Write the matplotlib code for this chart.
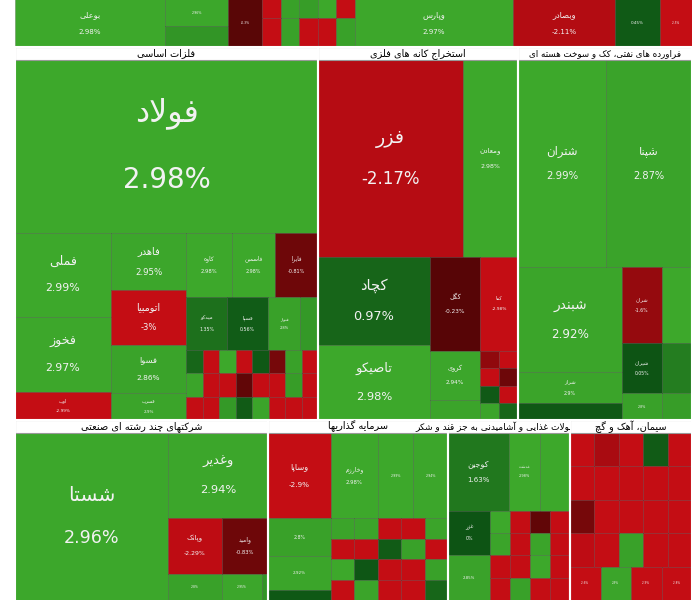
import matplotlib
matplotlib.use("Agg")
import matplotlib.pyplot as plt
from matplotlib.patches import Rectangle

# ---------------- minimal Arabic/Persian shaper ----------------
F = {
 'ء':(0xFE80,), 'آ':(0xFE81,0xFE82), 'أ':(0xFE83,0xFE84), 'ا':(0xFE8D,0xFE8E),
 'ب':(0xFE8F,0xFE90,0xFE91,0xFE92), 'ت':(0xFE95,0xFE96,0xFE97,0xFE98),
 'ث':(0xFE99,0xFE9A,0xFE9B,0xFE9C), 'ج':(0xFE9D,0xFE9E,0xFE9F,0xFEA0),
 'ح':(0xFEA1,0xFEA2,0xFEA3,0xFEA4), 'خ':(0xFEA5,0xFEA6,0xFEA7,0xFEA8),
 'د':(0xFEA9,0xFEAA), 'ذ':(0xFEAB,0xFEAC), 'ر':(0xFEAD,0xFEAE), 'ز':(0xFEAF,0xFEB0),
 'س':(0xFEB1,0xFEB2,0xFEB3,0xFEB4), 'ش':(0xFEB5,0xFEB6,0xFEB7,0xFEB8),
 'ص':(0xFEB9,0xFEBA,0xFEBB,0xFEBC), 'ض':(0xFEBD,0xFEBE,0xFEBF,0xFEC0),
 'ط':(0xFEC1,0xFEC2,0xFEC3,0xFEC4), 'ظ':(0xFEC5,0xFEC6,0xFEC7,0xFEC8),
 'ع':(0xFEC9,0xFECA,0xFECB,0xFECC), 'غ':(0xFECD,0xFECE,0xFECF,0xFED0),
 'ف':(0xFED1,0xFED2,0xFED3,0xFED4), 'ق':(0xFED5,0xFED6,0xFED7,0xFED8),
 'ل':(0xFEDD,0xFEDE,0xFEDF,0xFEE0), 'م':(0xFEE1,0xFEE2,0xFEE3,0xFEE4),
 'ن':(0xFEE5,0xFEE6,0xFEE7,0xFEE8), 'ه':(0xFEE9,0xFEEA,0xFEEB,0xFEEC),
 'و':(0xFEED,0xFEEE), 'پ':(0xFB56,0xFB57,0xFB58,0xFB59), 'چ':(0xFB7A,0xFB7B,0xFB7C,0xFB7D),
 'ژ':(0xFB8A,0xFB8B), 'ک':(0xFB8E,0xFB8F,0xFB90,0xFB91), 'گ':(0xFB92,0xFB93,0xFB94,0xFB95),
 'ی':(0xFBFC,0xFBFD,0xFBFE,0xFBFF), 'ي':(0xFEF1,0xFEF2,0xFEF3,0xFEF4),
 'ئ':(0xFE89,0xFE8A,0xFE8B,0xFE8C),
}

def shape(s):
    ch = list(s)
    out = []
    i = 0
    while i < len(ch):
        c = ch[i]
        prev = ch[i-1] if i > 0 else None
        jp = prev in F and len(F[prev]) == 4
        nxt = ch[i+1] if i+1 < len(ch) else None
        if c == 'ل' and nxt in ('ا', 'آ', 'أ'):
            out.append(chr(0xFEFC if jp else 0xFEFB)); i += 2; continue
        if c not in F:
            out.append(c); i += 1; continue
        f = F[c]
        jn = len(f) == 4 and nxt in F
        if len(f) == 1: idx = 0
        elif jp and jn: idx = 3
        elif jp: idx = 1
        elif jn: idx = 2
        else: idx = 0
        out.append(chr(f[idx])); i += 1
    return ''.join(reversed(out))

# ---------------- data ----------------
top_names  = ['بوعلی', 'وپارس', 'وبصادر']
top_values = [2.98, 2.97, -2.11]
felezat_names  = ['فولاد', 'فملی', 'فخوز', 'اوب', 'فاهدر', 'اتومبیا', 'فسوا', 'فسرب',
                  'کاوه', 'فاسمین', 'فایرا', 'میدکو', 'فسپا', 'فنوار']
felezat_values = [2.98, 2.99, 2.97, -2.99, 2.95, -3.0, 2.86, 2.9,
                  2.98, 2.98, -0.81, 1.35, 0.56, 2.8]
estekhraj_names  = ['فزر', 'ومعادن', 'کچاد', 'تاصیکو', 'کگل', 'کما', 'کروی']
estekhraj_values = [-2.17, 2.98, 0.97, 2.98, -0.23, -2.98, 2.94]
naft_names  = ['شتران', 'شپنا', 'شبندر', 'شراز', 'شران', 'شیران']
naft_values = [2.99, 2.87, 2.92, 2.9, -1.6, 0.05]
chand_names  = ['شستا', 'وغدیر', 'وپانک', 'وامید']
chand_values = [2.96, 2.94, -2.29, -0.83]
sarmaye_names  = ['وساپا', 'وخارزم']
sarmaye_values = [-2.9, 2.98]
ghaza_names  = ['کوجین', 'غدشت', 'غپینو', 'غزر']
ghaza_values = [1.63, 2.98, 2.99, 0.0]

titles = ['فلزات اساسی', 'استخراج کانه های فلزی', 'فراورده های نفتی، کک و سوخت هسته ای',
          'شرکتهای چند رشته ای صنعتی', 'سرمایه گذاریها',
          'محصولات غذایی و آشامیدنی به جز قند و شکر', 'سیمان، آهک و گچ']

top_small   = [2.5, -2.5, 2.9, 2.6, -2.8, -2.9, 2.8, 2.7, 3.0, -2.9, -2.7, 2.8, -2.5, -2.9, 2.8]
fel_small   = [1.0, -2.9, 3.0, -2.8, 0.3, -1.0, 2.8, -2.9, 2.9, -2.8, -2.9, -0.5,
               -2.9, -2.7, 2.7, -2.9, -2.8, -2.9, 2.6, 0.5, 2.9, -2.9, -2.6, -2.9]
est_small   = [-1.5, -2.8, -2.5, -0.8, 0.4, -2.9, 2.9, 1.0]
sar_small   = [2.9, 2.9, -2.8, -2.6, 2.9, -2.9, -2.9, 0.5, 2.8, -2.5, 3.0, 0.2,
               -2.7, -2.9, 2.8, -2.9, 2.9, -2.8, -2.6, 1.0]
ghaza_small = [3.0, -2.9, -0.5, -2.7, 2.9, -2.8, 2.9, -2.9, -2.8, -2.6, 3.0, -2.9, -2.9, 2.8, -2.7, -2.9]
siman_small = [-2.9, -1.95, -2.7, 0.5, -2.9, -2.71, -2.86, -2.85, -2.8, -2.99, -1.0, -2.9, -2.8,
               -2.7, -2.9, -2.3, -2.9, 2.8, -2.8, -2.9, -2.6, 2.9, -2.9, -2.8]

def lerp(a, b, t):
    return tuple(a[i] + (b[i] - a[i]) * t for i in range(3))

def color(p):
    if p >= 0:
        t = min(p / 3.0, 1) ** 1.4
        return lerp((0.05, 0.33, 0.08), (0.24, 0.66, 0.17), t)
    t = min(-p / 2.4, 1) ** 1.3
    return lerp((0.32, 0.02, 0.02), (0.77, 0.05, 0.08), t)

def L(name, p): return ('L', name, p)
def H(*kids): return ('H', kids)
def V(*kids): return ('V', kids)

def grid(vals, ncols):
    rows = [vals[i:i+ncols] for i in range(0, len(vals), ncols)]
    return V(*[(1, H(*[(1, L('', v)) for v in r])) for r in rows])

fig = plt.figure(figsize=(6.92, 6.0), dpi=100)
ax = fig.add_axes([0, 0, 1, 1])
ax.set_xlim(0, 692); ax.set_ylim(600, 0); ax.axis('off')

def draw(node, x0, y0, x1, y1):
    if node[0] == 'L':
        _, name, p = node
        ax.add_patch(Rectangle((x0, y0), x1 - x0, y1 - y0, facecolor=color(p),
                               edgecolor=(0, 0, 0, 0.22), lw=0.6))
        w, h = x1 - x0, min(y1, 600) - max(y0, 0)
        fs = min(w * 0.75, h) * 0.11
        if w > 300: fs = min(w, h) * 0.115
        cx = (x0 + x1) / 2
        cy = (max(y0, 0) + min(y1, 600)) / 2
        if fs < 2.5:
            return
        if name:
            ax.text(cx, cy - fs * 1.7, shape(name), color='#f2f2f2', fontsize=fs * 1.15,
                    ha='center', va='center', family=['DejaVu Sans'])
            ax.text(cx, cy + fs * 1.7, f'{p:g}%', color='#f2f2f2', fontsize=fs,
                    ha='center', va='center')
        else:
            ax.text(cx, cy, f'{p:g}%', color='#f2f2f2', fontsize=fs * 0.8,
                    ha='center', va='center')
        return
    kind, kids = node
    tot = sum(k[0] for k in kids)
    pos = x0 if kind == 'H' else y0
    span = (x1 - x0) if kind == 'H' else (y1 - y0)
    for wgt, child in kids:
        d = span * wgt / tot
        if kind == 'H':
            draw(child, pos, y0, pos + d, y1)
        else:
            draw(child, x0, pos, x1, pos + d)
        pos += d

def sector(title, node, x0, y0, x1, y1, center=None, left=None, clipx=None, fs=7):
    draw(node, x0, y0 + 13, x1, y1)
    ax.add_patch(Rectangle((x0, y0), x1 - x0, 13, facecolor='white', edgecolor='#999999', lw=0.8))
    if left is not None:
        t = ax.text(left, y0 + 6.5, shape(title), fontsize=fs, ha='left', va='center',
                    color='black', family=['DejaVu Sans'])
    else:
        cx = (x0 + x1) / 2 if center is None else center
        t = ax.text(cx, y0 + 6.5, shape(title), fontsize=fs, ha='center', va='center',
                    color='black', family=['DejaVu Sans'])
    if clipx:
        cr = Rectangle((clipx[0], y0), clipx[1] - clipx[0], 13, transform=ax.transData)
        t.set_clip_on(True)
        t.set_clip_path(cr)
    ax.plot([x0, x0, x1, x1], [y1, y0, y0, y1], color='white', lw=1.5)

fn, fv = felezat_names, felezat_values
en, ev = estekhraj_names, estekhraj_values
nn, nv = naft_names, naft_values
cn, cv = chand_names, chand_values
sn, sv = sarmaye_names, sarmaye_values
gn, gv = ghaza_names, ghaza_values

top = H((150, L(top_names[0], top_values[0])),
        (63, V((38, L('', 2.96)), (12, L('', 2.5)))),
        (34, V((12, L('', 2.9)), (38, L('', -0.3)))),
        (93, grid(top_small, 5)),
        (158, V((7, L('', -2.6)), (43, L(top_names[1], top_values[1])))),
        (102, L(top_names[2], top_values[2])),
        (45, V((12, L('', -1.0)), (38, L('', 0.45)))),
        (32, L('', -2.5)))
draw(top, 15, -40, 692, 47)

fel = V((173, L(fn[0], fv[0])),
        (187, H((96, V((84, L(fn[1], fv[1])), (75, L(fn[2], fv[2])), (28, L(fn[3], fv[3])))),
                (75, V((57, L(fn[4], fv[4])), (55, L(fn[5], fv[5])), (48, L(fn[6], fv[6])), (27, L(fn[7], fv[7])))),
                (132, V((64, H((46, L(fn[8], fv[8])), (43, L(fn[9], fv[9])), (43, L(fn[10], fv[10])))),
                        (53, H((41, L(fn[11], fv[11])), (41, L(fn[12], fv[12])), (32, L(fn[13], fv[13])), (18, L('', 2.6)))),
                        (70, grid(fel_small, 8)))))))
sector(titles[0], fel, 15, 47, 318, 420)

est = V((197, H((145, L(en[0], ev[0])), (55, L(en[1], ev[1])))),
        (163, H((112, V((88, L(en[2], ev[2])), (75, L(en[3], ev[3])))),
                (50, V((94, L(en[4], ev[4])), (49, L(en[6], ev[6])), (20, L('', 2.9)))),
                (38, V((94, L(en[5], ev[5])), (69, grid(est_small, 2)))))))
sector(titles[1], est, 318, 47, 518, 420)

naft = V((207, H((88, L(nn[0], nv[0])), (86, L(nn[1], nv[1])))),
         (153, H((104, V((105, L(nn[2], nv[2])), (31, L(nn[3], nv[3])), (17, L('', 0.3)))),
                 (40, V((76, L(nn[4], nv[4])), (50, L(nn[5], nv[5])), (27, L('', 2.8)))),
                 (30, V((76, L('', 3.0)), (50, L('', 1.8)), (27, L('', 2.7)))))))
sector(titles[2], naft, 518, 47, 692, 420, fs=6.3)

chand = H((153, L(cn[0], cv[0])),
          (100, V((86, L(cn[1], cv[1])),
                  (56, H((54, L(cn[2], cv[2])), (46, L(cn[3], cv[3])))),
                  (26, H((54, L('', 2.8)), (40, L('', 2.95)), (6, L('', 2.5)))))))
sector(titles[3], chand, 15, 420, 268, 600)

sar = V((86, H((63, L(sn[0], sv[0])), (47, L(sn[1], sv[1])), (35, L('', 2.99)), (35, L('', 2.94)))),
        (82, H((63, V((38, L('', 2.8)), (34, L('', 2.92)), (10, L('', 0.3)))),
               (117, grid(sar_small, 5)))))
sector(titles[4], sar, 268, 420, 448, 600, center=358)

gh = V((78, H((61, L(gn[0], gv[0])), (31, L(gn[1], gv[1])), (30, L(gn[2], gv[2])))),
       (90, H((42, V((45, L(gn[3], gv[3])), (45, L('', 2.85)))),
              (80, grid(ghaza_small, 4)))))
sector(titles[5], gh, 448, 420, 570, 600, left=415, clipx=(413, 570), fs=6.5)

siman = grid(siman_small, 5)
sector(titles[6], siman, 570, 420, 692, 600)

fig.savefig('out.png', dpi=100, facecolor='white')
